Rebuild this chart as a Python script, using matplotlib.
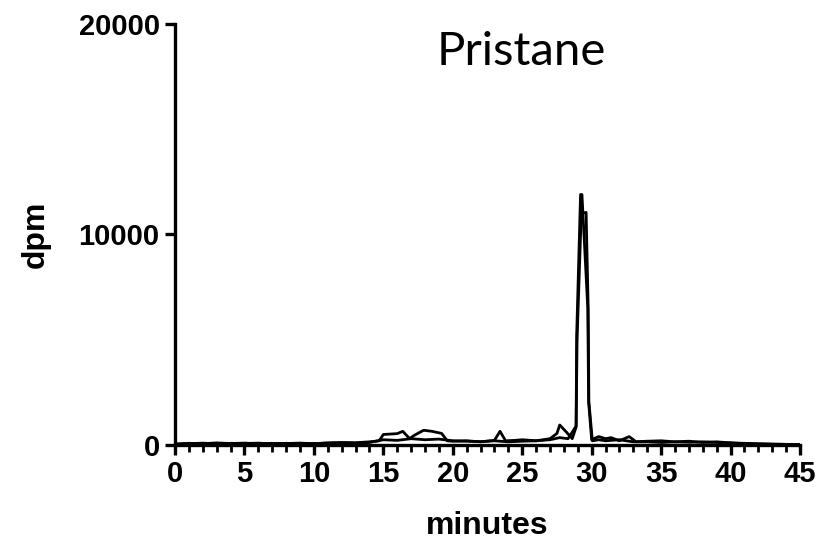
import matplotlib.pyplot as plt
from matplotlib.ticker import MultipleLocator

# radio-HPLC trace, two overlaid runs
time_a = [0, 1, 2, 3, 4, 5, 6, 7, 8, 9, 10, 11, 12, 13, 14,
          14.7, 15, 15.5, 16, 16.4, 16.9, 17.2, 17.9, 18.5, 19.2, 19.6,
          20, 21, 22, 23, 23.4, 23.8, 24.5, 25, 26, 27,
          27.5, 27.7, 28.2, 28.6, 28.88, 28.92, 29.2, 29.3, 29.72, 29.78, 30.0,
          30.5, 31, 31.4, 32, 32.7, 33.2,
          34, 35, 36, 37, 38, 39, 40, 41, 42, 43, 44, 45]
dpm_a = [50, 80, 60, 100, 70, 90, 60, 80, 70, 90, 60, 100, 120, 110, 150,
         200, 500, 520, 540, 650, 300, 450, 700, 650, 550, 200,
         180, 200, 150, 220, 650, 200, 220, 250, 200, 300,
         550, 950, 600, 300, 850, 5200, 11900, 11900, 6500, 2050, 250,
         400, 300, 350, 200, 400, 150,
         150, 120, 150, 130, 150, 120, 100, 60, 50, 40, 30, 20]

time_b = [0, 1, 2, 3, 4, 5, 6, 7, 8, 9, 10, 11, 12, 13, 14,
          15, 16, 17, 18, 19, 20, 21, 22, 23, 24, 25, 26, 27,
          27.7, 28.3, 28.88, 28.95, 29.25, 29.6, 29.75, 29.8, 30.05, 30.5,
          31, 32, 33, 34, 35, 36, 37, 38, 39, 40, 41, 42, 43, 44, 45]
dpm_b = [30, 60, 90, 50, 80, 70, 90, 50, 80, 60, 70, 90, 100, 80, 120,
         250, 220, 300, 250, 280, 200, 180, 160, 200, 150, 180, 200, 250,
         350, 300, 900, 5000, 11000, 11050, 6500, 2050, 200, 250,
         200, 250, 150, 180, 200, 150, 180, 120, 150, 100, 80, 60, 40, 30, 20]

fig = plt.figure(figsize=(8.32, 5.42), dpi=100)
ax = fig.add_axes([175/832, 1 - 445/542, 625/832, 421/542])

ax.plot(time_a, dpm_a, color='black', lw=2)
ax.plot(time_b, dpm_b, color='black', lw=2)

ax.set_xlim(0, 45)
ax.set_ylim(0, 20000)
ax.spines['top'].set_visible(False)
ax.spines['right'].set_visible(False)
ax.spines['left'].set_linewidth(2.4)
ax.spines['bottom'].set_linewidth(2.4)

ax.xaxis.set_major_locator(MultipleLocator(5))
ax.xaxis.set_minor_locator(MultipleLocator(1))
ax.set_yticks([0, 10000, 20000])
ax.tick_params(axis='both', which='major', length=7, width=2.4, pad=4)
ax.tick_params(axis='x', which='minor', length=5, width=2)

for lab in ax.get_xticklabels() + ax.get_yticklabels():
    lab.set_fontfamily('Liberation Sans')
    lab.set_fontweight('bold')
    lab.set_fontsize(21)

ax.set_xlabel('minutes', fontfamily='Liberation Sans', fontweight='bold', fontsize=23, labelpad=16)
ax.set_ylabel('dpm', fontfamily='Liberation Sans', fontweight='bold', fontsize=23, labelpad=20)

fig.text(521/832, 1 - 65/542, 'Pristane', fontfamily='Lato', fontsize=34,
         ha='center', va='baseline')

fig.savefig('out.png', dpi=100)
